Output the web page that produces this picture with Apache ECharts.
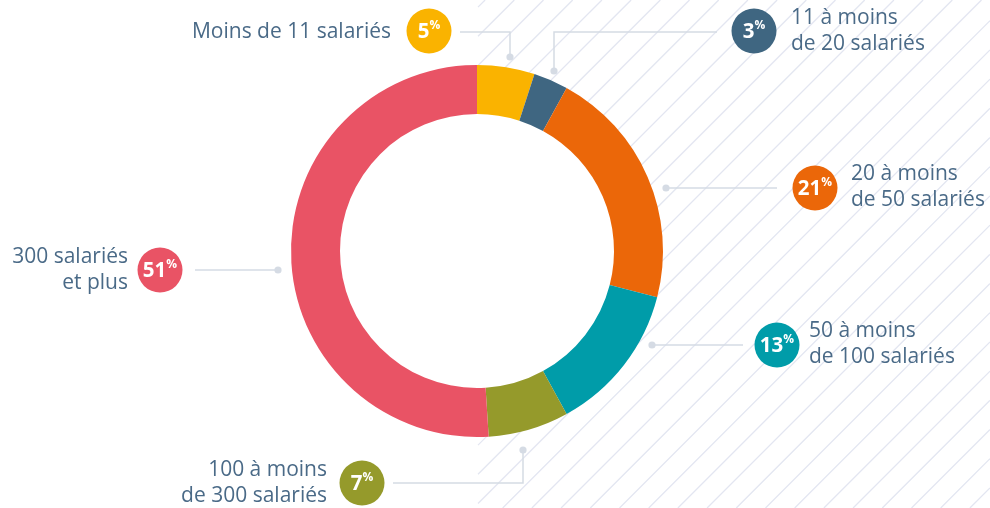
<!DOCTYPE html>
<html>
<head>
<meta charset="utf-8">
<script src="https://cdn.jsdelivr.net/npm/echarts@6/dist/echarts.min.js"></script>
<style>
html,body{margin:0;padding:0;background:#fff;}
#chart{width:990px;height:508px;}
</style>
</head>
<body>
<div id="chart"></div>
<script>
// ---- data ----
var categories = ['Moins de 11 salariés', '11 à moins de 20 salariés', '20 à moins de 50 salariés', '50 à moins de 100 salariés', '100 à moins de 300 salariés', '300 salariés et plus'];
var labelLines = [['Moins de 11 salariés'], ['11 à moins', 'de 20 salariés'], ['20 à moins', 'de 50 salariés'], ['50 à moins', 'de 100 salariés'], ['100 à moins', 'de 300 salariés'], ['300 salariés', 'et plus']];
var values = [5, 3, 21, 13, 7, 51];
var colors = ['#FAB300', '#3F6681', '#EB6709', '#009CA9', '#959A2B', '#E95365'];

// ---- layout (annotation placement) ----
var CX = 477, CY = 251, R_IN = 137, R_OUT = 186;
var layout = [
  {badge: [429, 31], text: [391, 32], align: 'right', line: [[460, 32], [510, 32], [510, 57]]},
  {badge: [754, 31], text: [791, 31], align: 'left', line: [[717, 32], [554, 32], [554, 71]]},
  {badge: [815, 188], text: [851, 187], align: 'left', line: [[777, 188], [666, 188]]},
  {badge: [777, 345], text: [809, 344], align: 'left', line: [[743, 345], [652, 345]]},
  {badge: [362, 483], text: [327, 483], align: 'right', line: [[393, 483], [523, 483], [523, 450]]},
  {badge: [160, 270], text: [128, 270], align: 'right', line: [[195, 270], [278, 270]]}
];

var TEXT_COLOR = '#4A6A87';
var LINE_COLOR = '#D5DBE4';
var HATCH_COLOR = '#E3E6F1';

var graphics = [];
// hatch background (right half)
var hx0 = 478, hx1 = 990, hy1 = 508, step = 29.2, c0 = 1098.3;
var cStart = c0 - Math.ceil((c0 - hx0) / step) * step;
for (var c = cStart; c <= hx1 + hy1; c += step) {
  var lo = Math.max(hx0, c - hy1), hi = Math.min(hx1, c);
  if (hi > lo) {
    graphics.push({type: 'line', z: 0, silent: true,
      shape: {x1: lo, y1: c - lo, x2: hi, y2: c - hi},
      style: {stroke: HATCH_COLOR, lineWidth: 1.3}});
  }
}
// white hole
graphics.push({type: 'circle', z: 1, silent: true, shape: {cx: CX, cy: CY, r: R_IN + 1}, style: {fill: '#fff'}});

layout.forEach(function (L, i) {
  graphics.push({type: 'polyline', z: 3, silent: true, shape: {points: L.line},
    style: {stroke: LINE_COLOR, lineWidth: 1.5, fill: null}});
  var end = L.line[L.line.length - 1];
  graphics.push({type: 'circle', z: 3, silent: true, shape: {cx: end[0], cy: end[1], r: 3.6}, style: {fill: LINE_COLOR}});
  graphics.push({type: 'circle', z: 4, silent: true, shape: {cx: L.badge[0], cy: L.badge[1], r: 22.5}, style: {fill: colors[i]}});
  graphics.push({type: 'text', z: 5, silent: true, x: L.badge[0], y: L.badge[1] + 1,
    style: {text: '{n|' + values[i] + '}{p|%}', align: 'center', verticalAlign: 'middle',
      rich: {
        n: {fontFamily: 'Open Sans', fontWeight: 'bold', fontSize: 20.5, fill: '#fff', lineHeight: 24},
        p: {fontFamily: 'Open Sans', fontWeight: 'bold', fontSize: 12, fill: '#fff', verticalAlign: 'top', lineHeight: 24, padding: [0, 0, 7, 0]}
      }}});
  graphics.push({type: 'text', z: 5, silent: true, x: L.text[0], y: L.text[1],
    style: {text: labelLines[i].join('\n'), align: L.align, verticalAlign: 'middle',
      fontFamily: 'Open Sans', fontSize: 21, lineHeight: 26, fill: TEXT_COLOR}});
});

var chart = echarts.init(document.getElementById('chart'), null, {renderer: 'canvas'});
chart.setOption({
  animation: false,
  backgroundColor: '#fff',
  graphic: graphics,
  series: [{
    type: 'pie',
    z: 2,
    center: [CX, CY],
    radius: [R_IN, R_OUT],
    startAngle: 90,
    clockwise: true,
    silent: true,
    label: {show: false},
    labelLine: {show: false},
    itemStyle: {borderWidth: 0},
    data: categories.map(function (name, i) {
      return {name: name, value: values[i], itemStyle: {color: colors[i]}};
    })
  }]
});
</script>
</body>
</html>
